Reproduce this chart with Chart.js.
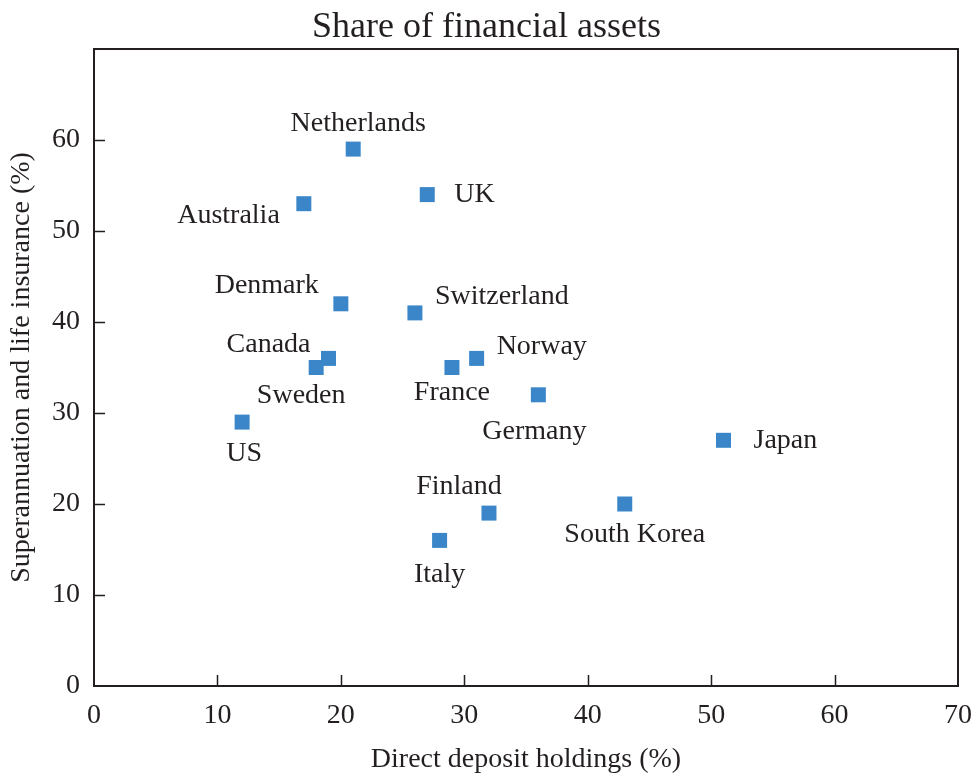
<!DOCTYPE html>
<html>
<head>
<meta charset="utf-8">
<script src="https://cdn.jsdelivr.net/npm/chart.js@4"></script>
<style>
  html, body { margin: 0; padding: 0; background: #fff; }
  #wrap { width: 973px; height: 776px; }
</style>
</head>
<body>
<div id="wrap"><canvas id="chart"></canvas></div>
<script>
'use strict';

// ── DATA ──
const countries = ['Netherlands', 'UK', 'Australia', 'Denmark', 'Switzerland', 'Canada', 'Sweden',
  'Norway', 'France', 'Germany', 'US', 'Japan', 'Finland', 'South Korea', 'Italy'];
const depositShare = [21, 27, 17, 20, 26, 19, 18, 31, 29, 36, 12, 51, 32, 43, 28];
const superShare   = [59, 54, 53, 42, 41, 36, 35, 36, 35, 32, 29, 27, 19, 20, 16];
const xTicks = [0, 10, 20, 30, 40, 50, 60, 70];
const yTicks = [0, 10, 20, 30, 40, 50, 60, 70];

// ── LABEL PLACEMENT (pixel offsets from marker) ──
const labelPos = {
  'Netherlands': { dx: 5,   dy: -25, align: 'center' },
  'UK':          { dx: 27,  dy: 0,   align: 'left' },
  'Australia':   { dx: -24, dy: 12,  align: 'right' },
  'Denmark':     { dx: -22, dy: -18, align: 'right' },
  'Switzerland': { dx: 20,  dy: -16, align: 'left' },
  'Canada':      { dx: -18, dy: -14, align: 'right' },
  'Sweden':      { dx: -15, dy: 28,  align: 'center' },
  'Norway':      { dx: 20,  dy: -12, align: 'left' },
  'France':      { dx: 0,   dy: 25,  align: 'center' },
  'Germany':     { dx: -4,  dy: 37,  align: 'center' },
  'US':          { dx: 2,   dy: 32,  align: 'center' },
  'Japan':       { dx: 30,  dy: 0,   align: 'left' },
  'Finland':     { dx: -30, dy: -26, align: 'center' },
  'South Korea': { dx: 10,  dy: 31,  align: 'center' },
  'Italy':       { dx: 0,   dy: 34,  align: 'center' }
};

const FONT = "'Liberation Serif', 'Times New Roman', serif";
const INK = '#231f20';

// ── FRAME + INWARD TICKS ──
const framePlugin = {
  id: 'frame',
  afterDatasetsDraw(chart) {
    const { ctx, chartArea: a, scales: { x, y } } = chart;
    ctx.save();
    ctx.strokeStyle = INK;
    ctx.lineWidth = 2;
    ctx.strokeRect(a.left, a.top, a.right - a.left, a.bottom - a.top);
    ctx.lineWidth = 1.5;
    ctx.beginPath();
    xTicks.slice(1, -1).forEach(v => {
      const px = Math.round(x.getPixelForValue(v)) + 0.5;
      ctx.moveTo(px, a.bottom); ctx.lineTo(px, a.bottom - 11);
    });
    yTicks.slice(1, -1).forEach(v => {
      const py = Math.round(y.getPixelForValue(v)) + 0.5;
      ctx.moveTo(a.left, py); ctx.lineTo(a.left + 11, py);
    });
    ctx.stroke();
    ctx.restore();
  }
};

// ── COUNTRY LABELS ──
const labelPlugin = {
  id: 'countryLabels',
  afterDatasetsDraw(chart) {
    const { ctx } = chart;
    const meta = chart.getDatasetMeta(0);
    ctx.save();
    ctx.font = `28px ${FONT}`;
    ctx.fillStyle = INK;
    ctx.textBaseline = 'middle';
    meta.data.forEach((pt, i) => {
      const p = labelPos[countries[i]];
      ctx.textAlign = p.align;
      ctx.fillText(countries[i], pt.x + p.dx, pt.y + p.dy);
    });
    ctx.restore();
  }
};

new Chart(document.getElementById('chart'), {
  type: 'scatter',
  data: {
    datasets: [{
      label: 'Countries',
      data: countries.map((c, i) => ({ x: depositShare[i], y: superShare[i] })),
      pointStyle: 'rect',
      pointRadius: 10.6,
      pointHoverRadius: 10.6,
      backgroundColor: '#3a86c8',
      borderWidth: 0
    }]
  },
  options: {
    responsive: true,
    maintainAspectRatio: false,
    animation: false,
    layout: { padding: { left: 0, right: 0, top: 0, bottom: 0 } },
    plugins: {
      legend: { display: false },
      tooltip: { enabled: false },
      title: {
        display: true,
        text: 'Share of financial assets',
        color: INK,
        font: { family: FONT, size: 36, weight: 'normal', lineHeight: 1.0 },
        padding: { top: 10, bottom: 3 }
      }
    },
    scales: {
      x: {
        type: 'linear', min: 0, max: 70,
        afterBuildTicks: s => { s.ticks = xTicks.map(v => ({ value: v })); },
        afterFit: s => { s.height = 90; s.paddingRight = 15; s.paddingLeft = 0; },
        ticks: { color: INK, font: { family: FONT, size: 28 }, padding: 13 },
        grid: { display: false, drawTicks: false },
        border: { display: false },
        title: { display: true, text: 'Direct deposit holdings (%)', color: INK,
                 font: { family: FONT, size: 28 }, padding: { top: 0, bottom: 0 } }
      },
      y: {
        type: 'linear', min: 0, max: 70,
        afterBuildTicks: s => { s.ticks = yTicks.map(v => ({ value: v })); },
        afterFit: s => { s.width = 94; },
        ticks: { color: INK, font: { family: FONT, size: 28 }, padding: 14,
                 callback: v => (v === 70 ? '' : v) },
        grid: { display: false, drawTicks: false },
        border: { display: false },
        title: { display: true, text: 'Superannuation and life insurance (%)', color: INK,
                 font: { family: FONT, size: 28 }, padding: { top: 5, bottom: 0 } }
      }
    }
  },
  plugins: [framePlugin, labelPlugin]
});
</script>
</body>
</html>
